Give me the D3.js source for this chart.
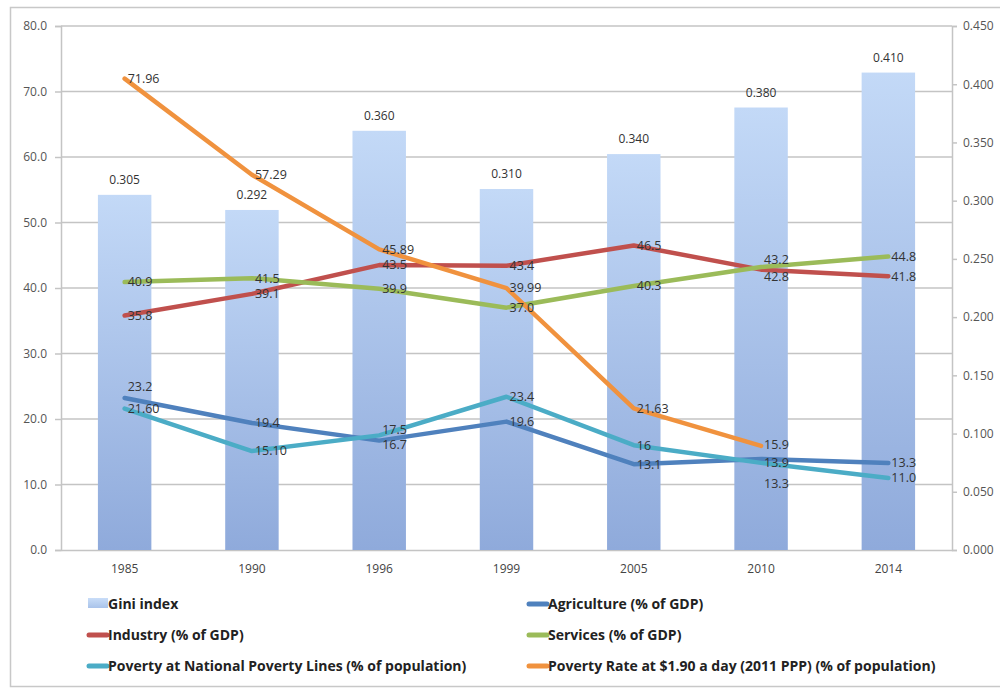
<!DOCTYPE html>
<html>
<head>
<meta charset="utf-8">
<script src="https://cdn.jsdelivr.net/npm/d3@7"></script>
<style>
  html, body { margin: 0; padding: 0; background: #fff; }
  svg { display: block; }
  text { font-family: "Open Sans", "Liberation Sans", Arial, sans-serif; }
</style>
</head>
<body>
<svg id="chart" width="1000" height="688"></svg>
<script>
// Survey years on the category axis
const years = ["1985", "1990", "1996", "1999", "2005", "2010", "2014"];

// Gini index (right axis)
const gini = [0.305, 0.292, 0.360, 0.310, 0.340, 0.380, 0.410];

// Percent series (left axis)
const agriculture = [23.2, 19.4, 16.7, 19.6, 13.1, 13.9, 13.3];
const industry    = [35.8, 39.1, 43.5, 43.4, 46.5, 42.8, 41.8];
const services    = [40.9, 41.5, 39.9, 37.0, 40.3, 43.2, 44.8];
const povNational = [21.6, 15.1, 17.5, 23.4, 16.0, 13.3, 11.0];
const povRate     = [71.96, 57.29, 45.89, 39.99, 21.63, 15.9, null];

// Label text as printed on the chart
const povNationalLabels = ["21.60", "15.10", "17.5", "23.4", "16", "13.3", "11.0"];
const povRateLabels = ["71.96", "57.29", "45.89", "39.99", "21.63", "15.9", null];

const leftTicks  = [0, 10, 20, 30, 40, 50, 60, 70, 80];
const rightTicks = [0, 0.05, 0.1, 0.15, 0.2, 0.25, 0.3, 0.35, 0.4, 0.45];

const svg = d3.select("#chart");

// outer frame
svg.append("rect")
  .attr("x", 10.5).attr("y", 7.5).attr("width", 1000).attr("height", 679)
  .attr("fill", "none").attr("stroke", "#c8c8c8").attr("stroke-width", 1.5);

const plot = { left: 61, right: 952, top: 26, bottom: 550 };

const x = d3.scaleBand().domain(years).range([plot.left, plot.right]).paddingInner(0.58).paddingOuter(0.29);
const xc = d => x(d) + x.bandwidth() / 2;
const yL = d3.scaleLinear().domain([0, 80]).range([plot.bottom, plot.top]);
const yR = d3.scaleLinear().domain([0, 0.45]).range([plot.bottom, plot.top]);

const gridColor = "#c4c4c4";
const tickColor = "#555";

// horizontal gridlines
svg.append("g").selectAll("line").data(leftTicks.filter(t => t > 0)).join("line")
  .attr("x1", plot.left).attr("x2", plot.right)
  .attr("y1", d => yL(d)).attr("y2", d => yL(d))
  .attr("stroke", gridColor).attr("stroke-width", 1.5);

// left axis
const leftAxis = svg.append("g").attr("transform", `translate(${plot.left},0)`)
  .call(d3.axisLeft(yL).tickValues(leftTicks).tickFormat(d3.format(".1f")).tickSize(6).tickPadding(8));
leftAxis.select(".domain").attr("stroke", gridColor).attr("stroke-width", 1.5);
leftAxis.selectAll(".tick line").attr("stroke", gridColor).attr("stroke-width", 1.5);
leftAxis.selectAll(".tick text").attr("fill", tickColor).attr("font-size", 12);

// right axis
const rightAxis = svg.append("g").attr("transform", `translate(${plot.right},0)`)
  .call(d3.axisRight(yR).tickValues(rightTicks).tickFormat(d3.format(".3f")).tickSize(5).tickPadding(6));
rightAxis.select(".domain").attr("stroke", gridColor).attr("stroke-width", 1.5);
rightAxis.selectAll(".tick line").attr("stroke", gridColor).attr("stroke-width", 1.5);
rightAxis.selectAll(".tick text").attr("fill", tickColor).attr("font-size", 12);

// bottom axis
const bottomAxis = svg.append("g").attr("transform", `translate(0,${plot.bottom})`)
  .call(d3.axisBottom(x).tickSize(0).tickPadding(14));
bottomAxis.select(".domain").attr("stroke", gridColor).attr("stroke-width", 1.5);
bottomAxis.selectAll(".tick text").attr("fill", "#444").attr("font-size", 12)
  .attr("font-family", "'Liberation Sans Narrow', 'DejaVu Sans Condensed', sans-serif");

// bar gradient
const defs = svg.append("defs");
const grad = defs.append("linearGradient").attr("id", "giniFill")
  .attr("x1", 0).attr("y1", 0).attr("x2", 0).attr("y2", 1);
grad.append("stop").attr("offset", "0%").attr("stop-color", "#c3d9f7");
grad.append("stop").attr("offset", "100%").attr("stop-color", "#8faadb");

const legGrad = defs.append("linearGradient").attr("id", "giniLegend")
  .attr("x1", 0).attr("y1", 0).attr("x2", 0).attr("y2", 1);
legGrad.append("stop").attr("offset", "0%").attr("stop-color", "#c9ddf8");
legGrad.append("stop").attr("offset", "100%").attr("stop-color", "#a9c3ea");

// Gini bars
svg.append("g").selectAll("rect").data(gini).join("rect")
  .attr("x", (d, i) => x(years[i]))
  .attr("y", d => yR(d))
  .attr("width", x.bandwidth())
  .attr("height", d => plot.bottom - yR(d))
  .attr("fill", "url(#giniFill)");

svg.append("g").selectAll("text").data(gini).join("text")
  .attr("x", (d, i) => xc(years[i]))
  .attr("y", d => yR(d) - 11)
  .attr("text-anchor", "middle")
  .attr("font-size", 12).attr("fill", "#333")
  .text(d => d3.format(".3f")(d));

// line series
const series = [
  { name: "Agriculture (% of GDP)", values: agriculture, color: "#4f81bd", labels: agriculture.map(d => d.toFixed(1)) },
  { name: "Industry (% of GDP)", values: industry, color: "#c0504d", labels: industry.map(d => d.toFixed(1)) },
  { name: "Services (% of GDP)", values: services, color: "#9bbb59", labels: services.map(d => d.toFixed(1)) },
  { name: "Poverty at National Poverty Lines (% of population)", values: povNational, color: "#4bacc6", labels: povNationalLabels },
  { name: "Poverty Rate at $1.90 a day (2011 PPP) (% of population)", values: povRate, color: "#f0923e", labels: povRateLabels }
];

// small vertical nudges so stacked labels stay readable
const labelNudge = {
  "0-0": -11, "3-5": 21, "4-5": -1, "0-5": 4,
  "1-5": 7, "2-5": -7, "3-2": -6, "0-2": 4
};

series.forEach(s => {
  const line = d3.line()
    .defined(d => d != null)
    .x((d, i) => xc(years[i]))
    .y(d => yL(d));
  svg.append("path")
    .datum(s.values)
    .attr("d", line)
    .attr("fill", "none")
    .attr("stroke", s.color)
    .attr("stroke-width", 4.5)
    .attr("stroke-linejoin", "round")
    .attr("stroke-linecap", "round");
});

series.forEach((s, si) => {
  svg.append("g").selectAll("text").data(s.values).join("text")
    .filter(d => d != null)
    .attr("x", (d, i) => xc(years[i]) + 3)
    .attr("y", (d, i) => yL(d) + (labelNudge[si + "-" + i] || 0))
    .attr("dy", "0.35em")
    .attr("font-size", 12.5).attr("fill", "#333")
    .text((d, i) => s.labels[i]);
});

// legend
const legendItems = [
  { name: "Gini index", type: "bar" },
  series[0], series[1], series[2], series[3], series[4]
];
const legendCols = [88, 528];
const legendRows = [604, 635, 666];
const legend = svg.append("g").selectAll("g").data(legendItems).join("g")
  .attr("transform", (d, i) => `translate(${legendCols[i % 2]},${legendRows[Math.floor(i / 2)]})`);
legend.each(function(d) {
  const g = d3.select(this);
  if (d.type === "bar") {
    g.append("rect").attr("x", 0).attr("y", -6).attr("width", 20).attr("height", 10).attr("fill", "url(#giniLegend)");
  } else {
    g.append("line").attr("x1", 1).attr("x2", 19).attr("y1", 0).attr("y2", 0)
      .attr("stroke", d.color).attr("stroke-width", 5).attr("stroke-linecap", "round");
  }
  g.append("text").attr("x", 20).attr("y", 0).attr("dy", "0.36em")
    .attr("font-size", 14).attr("font-weight", "bold").attr("fill", "#222")
    .attr("font-family", "'Liberation Sans Narrow', 'DejaVu Sans Condensed', sans-serif")
    .text(d.name);
});
</script>
</body>
</html>
